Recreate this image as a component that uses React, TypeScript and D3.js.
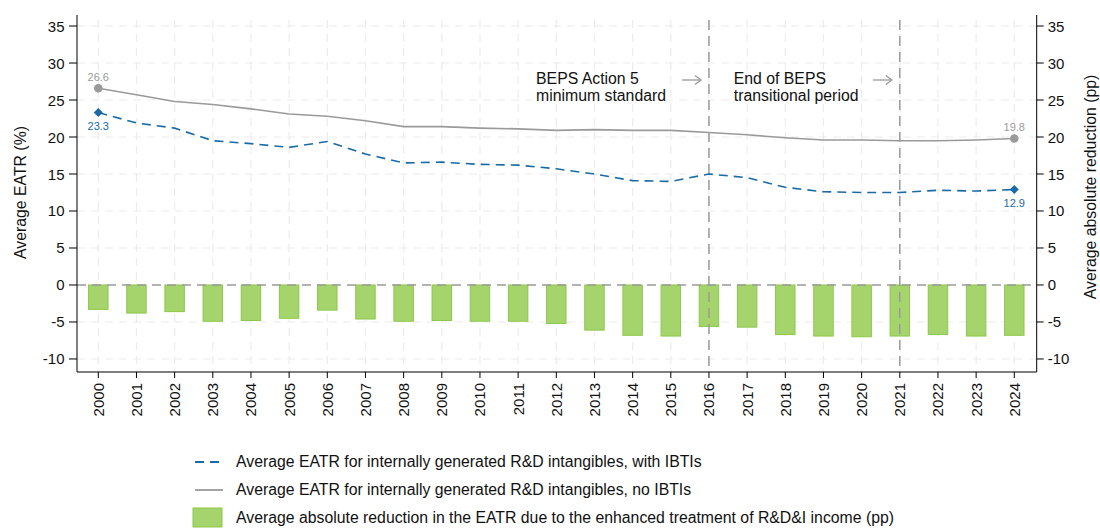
import React from "react";
import * as d3 from "d3";

const years = d3.range(2000, 2025);
const withIBTI = [23.3, 21.9, 21.2, 19.5, 19.1, 18.6, 19.4, 17.7, 16.5, 16.6, 16.3, 16.2, 15.7, 15.0, 14.1, 14.0, 15.0, 14.5, 13.2, 12.6, 12.5, 12.5, 12.8, 12.7, 12.9];
const noIBTI = [26.6, 25.7, 24.8, 24.4, 23.8, 23.1, 22.8, 22.2, 21.4, 21.4, 21.2, 21.1, 20.9, 21.0, 20.9, 20.9, 20.6, 20.3, 19.9, 19.6, 19.6, 19.5, 19.5, 19.6, 19.8];
const reduction = [-3.3, -3.8, -3.6, -4.9, -4.8, -4.5, -3.4, -4.6, -4.9, -4.8, -4.9, -4.9, -5.2, -6.1, -6.8, -6.9, -5.6, -5.7, -6.7, -6.9, -7.0, -6.9, -6.7, -6.9, -6.8];
const yTicks = [-10, -5, 0, 5, 10, 15, 20, 25, 30, 35];
const markerYears = [2016, 2021];
const annotations = [
  { year: 2016, textYear: 2011.47, lines: ["BEPS Action 5", "minimum standard"] },
  { year: 2021, textYear: 2016.65, lines: ["End of BEPS", "transitional period"] },
];
const legendItems = [
  "Average EATR for internally generated R&D intangibles, with IBTIs",
  "Average EATR for internally generated R&D intangibles, no IBTIs",
  "Average absolute reduction in the EATR due to the enhanced treatment of R&D&I income (pp)",
];

const BLUE = "#1a6aa6";
const GRAY = "#9a9a9a";
const GREEN_FILL = "#a6d46c";
const GREEN_STROKE = "#8cc84b";
const FONT = "Liberation Sans, Arial, sans-serif";

export default function App() {
  const W = 1100, H = 528;
  const left = 77, right = 1036.7, top = 15, bottom = 372;
  const step = (1014.3 - 98.3) / 24;
  const x = d3.scaleLinear().domain([2000, 2024]).range([98.3, 1014.3]);
  const y = d3.scaleLinear().domain([-11.76, 36.49]).range([bottom, top]);
  const barW = step * 0.51;

  const line = d3.line<number>().x((_, i) => x(years[i])).y((d) => y(d));

  const diamond = (cx: number, cy: number, r: number) =>
    `M${cx},${cy - r}L${cx + r},${cy}L${cx},${cy + r}L${cx - r},${cy}Z`;

  const arrowY = 80;

  return (
    <svg width={W} height={H} style={{ position: "absolute", left: 0, top: 0, fontFamily: FONT }}>
      <rect width={W} height={H} fill="#fff" />
      {/* grid */}
      {yTicks.filter((t) => t !== 0).map((t) => (
        <line key={"gy" + t} x1={left} x2={right} y1={y(t)} y2={y(t)} stroke="#ececec" strokeWidth={1.2} strokeDasharray="8,6" />
      ))}
      {years.map((yr) => (
        <line key={"gx" + yr} x1={x(yr)} x2={x(yr)} y1={top + 5} y2={bottom} stroke="#ececec" strokeWidth={1.2} strokeDasharray="8,6" />
      ))}
      {/* bars */}
      {reduction.map((v, i) => (
        <rect key={"b" + i} x={x(years[i]) - barW / 2} y={y(0)} width={barW} height={y(v) - y(0)} fill={GREEN_FILL} stroke={GREEN_STROKE} strokeWidth={1} />
      ))}
      {/* zero line */}
      <line x1={left} x2={right} y1={y(0)} y2={y(0)} stroke={GRAY} strokeWidth={1.5} strokeDasharray="9,6" />
      {/* vertical markers */}
      {markerYears.map((yr) => (
        <line key={"v" + yr} x1={x(yr)} x2={x(yr)} y1={top + 5} y2={bottom} stroke={GRAY} strokeWidth={1.5} strokeDasharray="10,6" />
      ))}
      {/* annotations */}
      {annotations.map((a) => (
        <g key={"a" + a.year}>
          <text x={x(a.textYear)} y={84} fontSize={15.8} fill="#111">
            {a.lines.map((l, j) => (
              <tspan key={j} x={x(a.textYear)} dy={j === 0 ? 0 : 16.5}>{l}</tspan>
            ))}
          </text>
          <line x1={x(a.year) - 27} x2={x(a.year) - 8} y1={arrowY} y2={arrowY} stroke={GRAY} strokeWidth={1.3} />
          <path d={`M${x(a.year) - 14},${arrowY - 4.5}L${x(a.year) - 8},${arrowY}L${x(a.year) - 14},${arrowY + 4.5}`} fill="none" stroke={GRAY} strokeWidth={1.3} />
        </g>
      ))}
      {/* lines */}
      <path d={line(noIBTI) || ""} fill="none" stroke={GRAY} strokeWidth={1.6} />
      <path d={line(withIBTI) || ""} fill="none" stroke={BLUE} strokeWidth={1.6} strokeDasharray="9,6" />
      {[0, 24].map((i) => (
        <g key={"m" + i}>
          <circle cx={x(years[i])} cy={y(noIBTI[i])} r={4.3} fill={GRAY} />
          <text x={x(years[i])} y={y(noIBTI[i]) - 7} fontSize={11} fill={GRAY} textAnchor="middle">{noIBTI[i].toFixed(1)}</text>
          <path d={diamond(x(years[i]), y(withIBTI[i]), 4.5)} fill={BLUE} />
          <text x={x(years[i])} y={y(withIBTI[i]) + 17} fontSize={11} fill={BLUE} textAnchor="middle">{withIBTI[i].toFixed(1)}</text>
        </g>
      ))}
      {/* axes */}
      <line x1={left} x2={left} y1={top} y2={bottom} stroke="#000" strokeWidth={1} />
      <line x1={right} x2={right} y1={top} y2={bottom} stroke="#000" strokeWidth={1} />
      <line x1={left} x2={right} y1={bottom} y2={bottom} stroke="#000" strokeWidth={1} />
      {yTicks.map((t) => (
        <g key={"yt" + t}>
          <line x1={left - 8} x2={left} y1={y(t)} y2={y(t)} stroke="#000" />
          <text x={left - 12.5} y={y(t) + 5.5} fontSize={15} textAnchor="end" fill="#111">{t}</text>
          <line x1={right} x2={right + 7} y1={y(t)} y2={y(t)} stroke="#000" />
          <text x={right + 11} y={y(t) + 5.5} fontSize={15} textAnchor="start" fill="#111">{t}</text>
        </g>
      ))}
      {years.map((yr) => (
        <g key={"xt" + yr}>
          <line x1={x(yr)} x2={x(yr)} y1={bottom} y2={bottom + 6} stroke="#000" />
          <text transform={`translate(${x(yr) + 5.5},${bottom + 11}) rotate(-90)`} fontSize={15} textAnchor="end" fill="#111">{yr}</text>
        </g>
      ))}
      <text transform={`translate(26,192.5) rotate(-90)`} fontSize={15.8} textAnchor="middle" fill="#111">Average EATR (%)</text>
      <text transform={`translate(1096,187) rotate(-90)`} fontSize={15.8} textAnchor="middle" fill="#111">Average absolute reduction (pp)</text>
      {/* legend */}
      <line x1={195} x2={223} y1={462} y2={462} stroke={BLUE} strokeWidth={2} strokeDasharray="9,6" />
      <line x1={195} x2={223} y1={490} y2={490} stroke={GRAY} strokeWidth={1.8} />
      <rect x={193} y={508} width={29} height={19} fill={GREEN_FILL} stroke={GREEN_STROKE} strokeWidth={1} />
      {legendItems.map((t, i) => (
        <text key={"l" + i} x={236} y={467 + i * 28} fontSize={15.8} fill="#111">{t}</text>
      ))}
    </svg>
  );
}
